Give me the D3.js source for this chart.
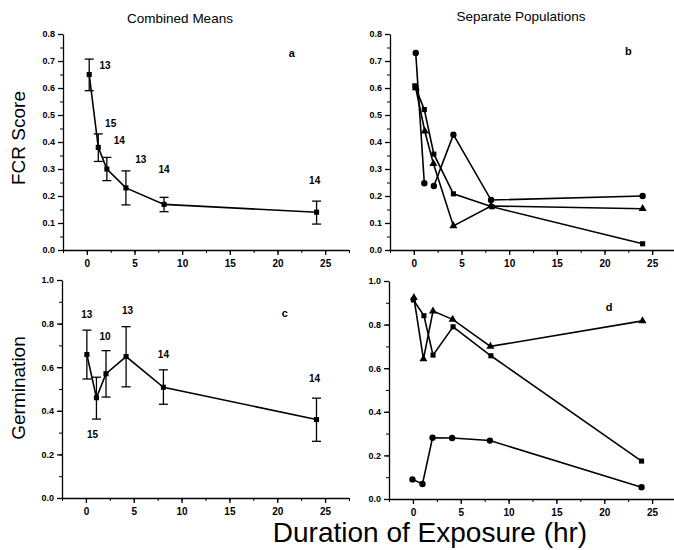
<!DOCTYPE html>
<html>
<head>
<meta charset="utf-8">
<script src="https://cdn.jsdelivr.net/npm/d3@7"></script>
<style>
  body { margin: 0; background: #fff; }
  svg { font-family: "Liberation Sans", Arial, sans-serif; }
</style>
</head>
<body>
<div id="chart"></div>
<script>
// ---- data ----
// panel a: combined FCR means with error bars and n
var fcrTime = [0.25, 1.2, 2.1, 4.1, 8.1, 24.1];
var fcrMean = [0.65, 0.38, 0.30, 0.23, 0.169, 0.14];
var fcrLow  = [0.59, 0.328, 0.257, 0.167, 0.142, 0.096];
var fcrHigh = [0.707, 0.43, 0.343, 0.293, 0.195, 0.181];
var fcrN    = ["13", "15", "14", "13", "14", "14"];

// panel b: FCR, separate populations
var fcrCircleTime = [0.2, 1.1, 2.1, 4.15, 8.1, 24];
var fcrCircle     = [0.73, 0.247, 0.237, 0.427, 0.185, 0.2];
var fcrSquareTime = [0.1, 1.1, 2.1, 4.15, 8.2, 24];
var fcrSquare     = [0.608, 0.52, 0.355, 0.208, 0.16, 0.023];
var fcrTriTime    = [0.2, 1.15, 2.05, 4.15, 8.1, 24];
var fcrTri        = [0.6, 0.44, 0.32, 0.089, 0.163, 0.153];

// panel c: combined germination means with error bars and n
var germTime = [0.1, 1.1, 2.1, 4.2, 8.1, 24.1];
var germMean = [0.658, 0.46, 0.57, 0.649, 0.508, 0.36];
var germLow  = [0.546, 0.362, 0.463, 0.51, 0.43, 0.26];
var germHigh = [0.77, 0.554, 0.676, 0.786, 0.588, 0.458];
var germN    = ["13", "15", "10", "13", "14", "14"];

// panel d: germination, separate populations
var germTriTime    = [0.1, 1.1, 2.1, 4.15, 8.1, 24];
var germTri        = [0.924, 0.642, 0.862, 0.824, 0.70, 0.817];
var germSquareTime = [0.05, 1.15, 2.1, 4.2, 8.15, 23.9];
var germSquare     = [0.913, 0.841, 0.66, 0.79, 0.657, 0.174];
var germCircleTime = [-0.05, 1.0, 2.05, 4.1, 8.05, 23.9];
var germCircle     = [0.09, 0.069, 0.281, 0.28, 0.268, 0.054];

var xTicks = [0, 5, 10, 15, 20, 25];

var W = 674, H = 550;
var svg = d3.select("#chart").append("svg")
  .attr("width", W).attr("height", H);

var fmt = d3.format(".1f");

function zip(xs, ys) {
  return xs.map(function(x, i) { return { x: x, y: ys[i] }; });
}

// one panel: axes with major/minor ticks, returns the scales
function panel(left, right, top, bottom, yMax, yStep) {
  var x = d3.scaleLinear().domain([-2.5, 27.5]).range([left, right]);
  var y = d3.scaleLinear().domain([0, yMax]).range([bottom, top]);
  var g = svg.append("g");

  // minor ticks
  g.append("g")
    .attr("transform", "translate(0," + bottom + ")")
    .call(d3.axisBottom(x).tickValues(d3.range(-2.5, 27.6, 2.5)).tickSize(3).tickFormat(""))
    .call(function(s) { s.select(".domain").remove(); });
  g.append("g")
    .attr("transform", "translate(" + left + ",0)")
    .call(d3.axisLeft(y).tickValues(d3.range(0, yMax + 1e-9, yStep / 2)).tickSize(3).tickFormat(""))
    .call(function(s) { s.select(".domain").remove(); });

  // major ticks
  var xa = g.append("g")
    .attr("transform", "translate(0," + bottom + ")")
    .call(d3.axisBottom(x).tickValues(xTicks).tickSize(5).tickPadding(5).tickSizeOuter(0));
  var ya = g.append("g")
    .attr("transform", "translate(" + left + ",0)")
    .call(d3.axisLeft(y).tickValues(d3.range(0, yMax + 1e-9, yStep)).tickSize(5).tickPadding(3)
      .tickFormat(fmt).tickSizeOuter(0));
  [xa, ya].forEach(function(a) {
    a.selectAll("path, line").attr("stroke", "#000").attr("stroke-width", 1.3);
    a.selectAll("text").attr("fill", "#000").style("font-size", "9px").style("font-weight", "bold");
  });
  xa.selectAll("text").style("font-size", "10px");
  return { x: x, y: y, g: g };
}

var line = function(p) {
  return d3.line().x(function(d) { return p.x(d.x); }).y(function(d) { return p.y(d.y); });
};

function series(p, pts, shape, size, gaps) {
  gaps = gaps || [];
  // break the line after any index listed in gaps
  var parts = [[]];
  pts.forEach(function(d, i) {
    parts[parts.length - 1].push(d);
    if (gaps.indexOf(i) >= 0) parts.push([d]);
  });
  parts.forEach(function(seg, k) {
    if (k > 0) seg = seg.slice(1);
    if (seg.length > 1) {
      p.g.append("path").datum(seg)
        .attr("d", line(p))
        .attr("fill", "none").attr("stroke", "#000").attr("stroke-width", 1.6);
    }
  });
  p.g.selectAll(null).data(pts).enter().append("path")
    .attr("transform", function(d) { return "translate(" + p.x(d.x) + "," + p.y(d.y) + ")"; })
    .attr("d", d3.symbol().type(shape).size(size))
    .attr("fill", "#000");
}

function errorBars(p, xs, lo, hi) {
  var g = p.g.append("g").attr("stroke", "#000").attr("stroke-width", 1.3);
  xs.forEach(function(x, i) {
    var cx = p.x(x);
    g.append("line").attr("x1", cx).attr("x2", cx).attr("y1", p.y(lo[i])).attr("y2", p.y(hi[i]));
    [lo[i], hi[i]].forEach(function(v) {
      g.append("line").attr("x1", cx - 4.5).attr("x2", cx + 4.5).attr("y1", p.y(v)).attr("y2", p.y(v));
    });
  });
}

function nLabels(p, labels, pos) {
  p.g.selectAll(null).data(labels).enter().append("text")
    .attr("x", function(d, i) { return p.x(pos[i][0]); })
    .attr("y", function(d, i) { return p.y(pos[i][1]); })
    .attr("dy", "0.35em")
    .attr("text-anchor", "middle")
    .style("font-size", "10px").style("font-weight", "bold")
    .text(function(d) { return d; });
}

function letter(p, t, xv, yv) {
  p.g.append("text").attr("x", p.x(xv)).attr("y", p.y(yv)).attr("dy", "0.35em")
    .attr("text-anchor", "middle").style("font-size", "11px").style("font-weight", "bold").text(t);
}

// ---- panel a ----
var pa = panel(63, 349, 34, 250, 0.8, 0.1);
errorBars(pa, fcrTime, fcrLow, fcrHigh);
series(pa, zip(fcrTime, fcrMean), d3.symbolSquare, 26);
nLabels(pa, fcrN, [[1.9, 0.683], [2.5, 0.467], [3.4, 0.407], [5.65, 0.337], [8.1, 0.30], [23.9, 0.256]]);
letter(pa, "a", 21.5, 0.728);

// ---- panel b ----
var pb = panel(390, 676, 34, 250, 0.8, 0.1);
series(pb, zip(fcrSquareTime, fcrSquare), d3.symbolSquare, 26);
series(pb, zip(fcrTriTime, fcrTri), d3.symbolTriangle, 28);
series(pb, zip(fcrCircleTime, fcrCircle), d3.symbolCircle, 32, [1]);
letter(pb, "b", 22.5, 0.735);

// ---- panel c ----
var pc = panel(62, 349, 280, 498, 1.0, 0.2);
errorBars(pc, germTime, germLow, germHigh);
series(pc, zip(germTime, germMean), d3.symbolSquare, 26);
nLabels(pc, germN, [[0.1, 0.84], [0.7, 0.293], [2.0, 0.74], [4.35, 0.862], [8.1, 0.66], [23.9, 0.55]]);
letter(pc, "c", 20.8, 0.85);

// ---- panel d ----
var pd = panel(389, 676, 281, 499, 1.0, 0.2);
series(pd, zip(germSquareTime, germSquare), d3.symbolSquare, 26);
series(pd, zip(germTriTime, germTri), d3.symbolTriangle, 28);
series(pd, zip(germCircleTime, germCircle), d3.symbolCircle, 32);
letter(pd, "d", 20.5, 0.88);

// ---- titles ----
svg.append("text").attr("x", 180).attr("y", 23).attr("text-anchor", "middle")
  .style("font-size", "13.5px").text("Combined Means");
svg.append("text").attr("x", 521).attr("y", 21).attr("text-anchor", "middle")
  .style("font-size", "13.5px").text("Separate Populations");
svg.append("text").attr("transform", "translate(25,138) rotate(-90)").attr("text-anchor", "middle")
  .style("font-size", "19px").text("FCR Score");
svg.append("text").attr("transform", "translate(25,388) rotate(-90)").attr("text-anchor", "middle")
  .style("font-size", "19px").text("Germination");
svg.append("text").attr("x", 430).attr("y", 542).attr("text-anchor", "middle")
  .style("font-size", "28px").text("Duration of Exposure (hr)");
</script>
</body>
</html>
